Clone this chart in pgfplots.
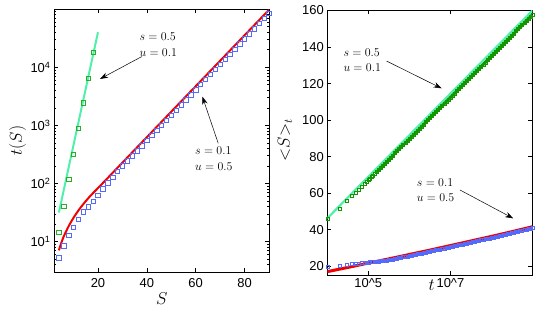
\documentclass[border=0pt]{standalone}
\usepackage{fontspec}
\setsansfont{Liberation Sans}
\usepackage{pgfplots}
\pgfplotsset{compat=1.18}
\usetikzlibrary{arrows.meta}
\definecolor{aqua}{RGB}{80,240,170}
\definecolor{lgreen}{RGB}{40,175,40}
\definecolor{dgreen}{RGB}{20,150,0}
\definecolor{sqblue}{RGB}{85,105,250}
\definecolor{myred}{RGB}{240,0,0}
\pgfplotsset{
  common/.style={
    scale only axis,
    anchor=south west,
    tick align=inside,
    tick pos=both,
    xticklabel pos=lower,
    yticklabel pos=left,
    axis line style={line width=0.6bp,black},
    tick style={line width=0.5bp,black},
    major tick length=4bp,
    minor tick length=2.2bp,
    tick label style={font=\sffamily\fontsize{13}{15}\selectfont},
    label style={font=\fontsize{17}{20}\selectfont},
  },
}
\tikzset{
  annot/.style={anchor=north west,inner sep=0pt,align=left,font=\fontsize{12}{15.7}\selectfont},
  arr/.style={-{Stealth[length=8bp,width=5.5bp]},line width=0.5bp,black},
}
\begin{document}
\begin{tikzpicture}
\path[use as bounding box] (0,0) rectangle (540bp,315bp);
% ---------------- left panel ----------------
\begin{axis}[common,
  at={(54bp,43bp)}, width=215bp, height=263bp,
  xmin=2, xmax=90, ymode=log, ymin=3, ymax=1e5,
  xtick={20,40,60,80}, xticklabels={20,40,60,80},
  xticklabel style={yshift=-3bp},
  ytick={10,100,1000,10000},
  yticklabels={10\textsuperscript{1},10\textsuperscript{2},10\textsuperscript{3},10\textsuperscript{4}},
  minor ytick={3,4,5,6,7,8,9,20,30,40,50,60,70,80,90,200,300,400,500,600,700,800,900,2000,3000,4000,5000,6000,7000,8000,9000,20000,30000,40000,50000,60000,70000,80000,90000},
  xlabel={$S$}, ylabel={$t(S)$},
  xlabel style={at={(rel axis cs:0.501,-0.10)},anchor=center},
  ylabel style={at={(rel axis cs:-0.17,0.5)},anchor=center},
]
\addplot[only marks, mark=square, mark size=2.2bp, color=sqblue, mark options={line width=0.6bp}] coordinates {
(4,5.25)(6,8.51)(8,12.9)(10,17.8)(12,24.0)(14,32.4)(16,39.8)(18,49.0)(20,63.1)(22,81.3)(24,102)(26,129)(28,162)(30,200)(32,244.6)(34,299.2)(36,365.9)(38,447.5)(40,547.3)(42,669.3)(44,818.6)(46,1001)(48,1224)(50,1497)(52,1831)(54,2240)(56,2739)(58,3350)(60,4097)(62,5011)(64,6128)(66,7495)(68,9166)(70,11210)(72,13710)(74,16768)(76,20507)(78,25080)(80,30673)(82,37513)(84,45879)(86,56111)(88,68623)(90,83926)};
\addplot[no marks, color=myred, line width=2bp, smooth] coordinates {
(4,7.08)(5,9.55)(6,12.30)(7,15.14)(8,18.41)(9,21.88)(10,25.70)(12,34.28)(14,44.16)(16,55.59)(18,68.39)(20,83.18)(25,137.4)(30,228.0)(40,625.2)(50,1714)(60,4699)(70,12882)(80,35318)(90,96828)};
\addplot[no marks, color=aqua, line width=2bp] coordinates {(4,31.6)(20,39800)};
\addplot[only marks, mark=square, mark size=2.2bp, color=lgreen, mark options={line width=0.6bp}] coordinates {
(4,14.3)(6,40.8)(8,118)(10,314)(12,893)(14,2450)(16,6460)(18,18200)};
\node[annot] at (rel axis cs:0.397,0.909) {$s=0.5$\\$u=0.1$};
\draw[arr] (rel axis cs:0.408,0.819) -- (rel axis cs:0.214,0.734);
\node[annot] at (rel axis cs:0.656,0.476) {$s=0.1$\\$u=0.5$};
\draw[arr] (rel axis cs:0.764,0.489) -- (rel axis cs:0.690,0.667);
\end{axis}
% ---------------- right panel ----------------
\begin{axis}[common,
  at={(327.3bp,39.7bp)}, width=205.2bp, height=264.8bp,
  xmin=4, xmax=9, ymin=15, ymax=160,
  xtick={5,7}, xticklabels={10\textasciicircum 5,10\textasciicircum 7},
  ytick={20,40,60,80,100,120,140,160},
  yticklabels={20,40,60,80,100,120,140,160},
  xlabel={$t$}, ylabel={${<}S{>}_t$},
  xlabel style={at={(rel axis cs:0.509,-0.037)},anchor=center},
  ylabel style={at={(rel axis cs:-0.206,0.511)},anchor=center},
]
% green: sparse early markers
\addplot[only marks, mark=square, mark size=1.5bp, color=dgreen, mark options={line width=0.5bp}] coordinates {
(4.000,46.0)(4.301,51.6)(4.477,55.6)(4.602,58.3)(4.699,60.4)(4.778,62.1)(4.845,63.6)(4.903,64.9)(4.954,66.1)(5.000,67.1)(5.041,68.1)(5.079,68.9)(5.114,69.7)(5.146,70.4)};
% green: dense markers merging into a band
\addplot[color=dgreen, line width=3.2bp, mark=square, mark size=1.5bp, mark options={line width=0.5bp}] coordinates {
(5.20,71.67)(5.25,72.80)(5.30,73.93)(5.35,75.06)(5.40,76.20)(5.45,77.33)(5.50,78.46)(5.55,79.59)(5.60,80.72)(5.65,81.86)(5.70,82.99)(5.75,84.12)(5.80,85.25)(5.85,86.38)(5.90,87.52)(5.95,88.65)
(6.00,89.78)(6.05,90.91)(6.10,92.04)(6.15,93.18)(6.20,94.31)(6.25,95.44)(6.30,96.57)(6.35,97.70)(6.40,98.84)(6.45,99.97)(6.50,101.10)(6.55,102.23)(6.60,103.36)(6.65,104.50)(6.70,105.63)(6.75,106.76)(6.80,107.89)(6.85,109.02)(6.90,110.16)(6.95,111.29)
(7.00,112.42)(7.05,113.55)(7.10,114.68)(7.15,115.82)(7.20,116.95)(7.25,118.08)(7.30,119.21)(7.35,120.34)(7.40,121.48)(7.45,122.61)(7.50,123.74)(7.55,124.87)(7.60,126.00)(7.65,127.14)(7.70,128.27)(7.75,129.40)(7.80,130.53)(7.85,131.66)(7.90,132.80)(7.95,133.93)
(8.00,135.06)(8.05,136.19)(8.10,137.32)(8.15,138.46)(8.20,139.59)(8.25,140.72)(8.30,141.85)(8.35,142.98)(8.40,144.12)(8.45,145.25)(8.50,146.38)(8.55,147.51)(8.60,148.64)(8.65,149.78)(8.70,150.91)(8.75,152.04)(8.80,153.17)(8.85,154.30)(8.90,155.44)(8.95,156.57)(9.00,157.70)};
\addplot[no marks, color=aqua, line width=2.2bp] coordinates {(4,46.2)(9,160)};
% blue: sparse early markers
\addplot[only marks, mark=square, mark size=1.5bp, color=sqblue, mark options={line width=0.5bp}] coordinates {
(4.000,19.6)(4.301,20.4)(4.477,20.7)(4.602,21.1)(4.699,21.3)(4.778,21.5)(4.845,21.7)(4.903,21.9)(4.954,22.0)(5.000,22.1)(5.041,22.2)(5.079,22.3)(5.114,22.4)(5.146,22.45)};
% blue: dense markers merging into a band
\addplot[color=sqblue, line width=2.6bp, mark=square, mark size=1.5bp, mark options={line width=0.5bp}] coordinates {
(5.20,22.50)(5.25,22.63)(5.30,22.77)(5.35,22.90)(5.40,23.03)(5.45,23.17)(5.50,23.30)(5.55,23.53)(5.60,23.76)(5.65,23.99)(5.70,24.22)(5.75,24.45)(5.80,24.68)(5.85,24.91)(5.90,25.14)(5.95,25.37)
(6.00,25.60)(6.05,25.84)(6.10,26.08)(6.15,26.32)(6.20,26.56)(6.25,26.80)(6.30,27.04)(6.35,27.28)(6.40,27.52)(6.45,27.76)(6.50,28.00)(6.55,28.25)(6.60,28.50)(6.65,28.75)(6.70,29.00)(6.75,29.25)(6.80,29.50)(6.85,29.75)(6.90,30.00)(6.95,30.25)
(7.00,30.50)(7.05,30.75)(7.10,31.00)(7.15,31.25)(7.20,31.50)(7.25,31.75)(7.30,32.00)(7.35,32.25)(7.40,32.50)(7.45,32.75)(7.50,33.00)(7.55,33.25)(7.60,33.50)(7.65,33.75)(7.70,34.00)(7.75,34.25)(7.80,34.50)(7.85,34.75)(7.90,35.00)(7.95,35.25)
(8.00,35.50)(8.05,35.77)(8.10,36.04)(8.15,36.31)(8.20,36.58)(8.25,36.85)(8.30,37.12)(8.35,37.39)(8.40,37.66)(8.45,37.93)(8.50,38.20)(8.55,38.47)(8.60,38.74)(8.65,39.01)(8.70,39.28)(8.75,39.55)(8.80,39.82)(8.85,40.09)(8.90,40.36)(8.95,40.63)(9.00,40.90)};
\addplot[no marks, color=myred, line width=3bp] coordinates {
(4,17.0)(4.5,19.3)(5,21.7)(5.5,24.0)(6,26.4)(6.5,28.8)(7,31.3)(7.5,33.8)(8,36.3)(8.5,38.9)(9,41.6)};
\node[annot] at (rel axis cs:0.078,0.857) {$s=0.5$\\$u=0.1$};
\draw[arr] (rel axis cs:0.289,0.809) -- (rel axis cs:0.557,0.706);
\node[annot] at (rel axis cs:0.436,0.366) {$s=0.1$\\$u=0.5$};
\draw[arr] (rel axis cs:0.647,0.322) -- (rel axis cs:0.906,0.215);
\end{axis}
\end{tikzpicture}
\end{document}
